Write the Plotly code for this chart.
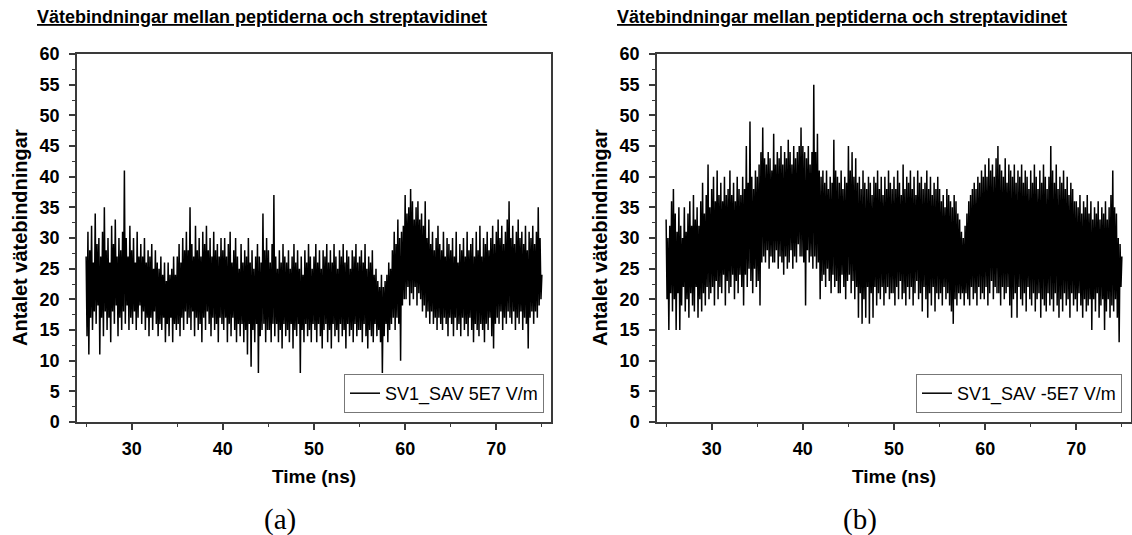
import numpy as np
import plotly.graph_objects as go

# ---------------- data (0.1 ns grid, 25.0 .. 75.0 ns) ----------------
time_start_ns = 25.0
time_step_ns = 0.1

hbonds_a = [
    27, 14, 31, 11, 28, 17, 32, 15, 26, 18, 34, 16, 29, 19, 30, 11, 27, 17, 31, 14,
    35, 18, 28, 15, 30, 17, 26, 13, 32, 18, 29, 16, 33, 19, 27, 14, 30, 17, 28, 15,
    31, 18, 41, 16, 30, 19, 27, 15, 32, 17,
    28, 16, 30, 18, 26, 15, 31, 17, 27, 19, 29, 16, 27, 18, 30, 15, 26, 17, 28, 14,
    27, 17, 29, 15, 25, 18, 28, 16, 26, 14, 25, 16, 27, 15, 24, 17, 26, 13, 23, 16,
    26, 14, 24, 17, 25, 13, 27, 16, 24, 15,
    27, 16, 29, 14, 26, 17, 30, 15, 28, 18, 31, 16, 28, 17, 35, 15, 29, 18, 27, 14,
    32, 17, 28, 15, 30, 16, 27, 13, 31, 17, 29, 15, 32, 18, 28, 16, 30, 14, 27, 17,
    31, 15, 28, 16, 29, 13, 27, 17, 30, 16,
    28, 15, 30, 17, 27, 13, 29, 16, 31, 14, 26, 17, 28, 15, 30, 13, 27, 16, 25, 14,
    29, 16, 26, 13, 28, 15, 27, 11, 30, 16, 26, 9, 28, 15, 25, 13, 27, 16, 29, 8,
    27, 14, 26, 15, 34, 16, 28, 13, 30, 15,
    28, 15, 26, 13, 29, 16, 37, 14, 27, 16, 25, 13, 28, 15, 26, 12, 29, 16, 27, 14,
    26, 15, 28, 13, 25, 16, 27, 12, 29, 15, 26, 14, 28, 16, 25, 8, 27, 15, 24, 13,
    28, 16, 26, 14, 29, 15, 27, 13, 25, 16,
    27, 15, 29, 13, 26, 16, 28, 14, 25, 12, 28, 15, 27, 16, 29, 13, 26, 15, 28, 12,
    26, 16, 29, 14, 27, 15, 25, 13, 28, 16, 27, 14, 29, 15, 26, 12, 28, 16, 27, 14,
    25, 15, 28, 13, 27, 16, 29, 14, 26, 15,
    27, 15, 28, 13, 26, 16, 29, 14, 25, 12, 27, 15, 26, 14, 28, 13, 24, 16, 25, 14,
    23, 15, 22, 13, 24, 8, 22, 14, 23, 16, 24, 13, 26, 15, 25, 16, 28, 17, 31, 15,
    29, 17, 33, 16, 30, 10, 31, 19, 32, 20,
    37, 20, 34, 22, 35, 19, 38, 21, 36, 20, 33, 22, 35, 19, 36, 21, 33, 20, 34, 18,
    32, 19, 36, 17, 30, 18, 33, 16, 29, 18, 31, 16, 28, 17, 30, 15, 32, 17, 29, 16,
    28, 15, 31, 17, 27, 16, 30, 14, 29, 17,
    28, 16, 30, 14, 27, 17, 31, 15, 26, 16, 29, 14, 28, 17, 30, 15, 27, 16, 31, 14,
    28, 17, 29, 15, 30, 13, 27, 16, 31, 15, 28, 14, 32, 16, 27, 15, 30, 13, 29, 16,
    31, 15, 28, 17, 30, 14, 32, 12, 29, 16,
    31, 17, 33, 16, 30, 18, 32, 15, 29, 17, 31, 16, 33, 18, 36, 17, 30, 16, 32, 18,
    29, 15, 31, 17, 33, 16, 30, 18, 31, 15, 29, 17, 32, 16, 28, 12, 31, 17, 30, 18,
    32, 16, 29, 18, 31, 17, 35, 19, 30, 20, 24,
]

hbonds_b = [
    33, 20, 30, 15, 32, 21, 36, 18, 38, 20, 34, 15, 31, 21, 35, 15, 32, 19, 30, 22,
    35, 18, 31, 20, 34, 17, 36, 21, 32, 19, 37, 18, 33, 22, 35, 17, 32, 20, 36, 18,
    39, 21, 34, 19, 37, 22, 42, 20, 35, 21,
    38, 22, 40, 19, 36, 23, 41, 20, 37, 22, 39, 21, 36, 24, 40, 19, 37, 23, 38, 21,
    41, 22, 37, 24, 39, 20, 36, 23, 40, 21, 38, 24, 37, 22, 40, 19, 38, 24, 45, 22,
    39, 25, 49, 23, 40, 21, 38, 25, 41, 22,
    40, 23, 42, 19, 44, 26, 48, 27, 43, 26, 42, 28, 44, 25, 43, 27, 41, 26, 47, 26,
    42, 28, 44, 25, 43, 27, 45, 26, 42, 24, 44, 27, 43, 25, 46, 26, 44, 28, 42, 25,
    45, 27, 43, 26, 44, 29, 45, 27, 48, 27,
    45, 26, 44, 19, 43, 28, 45, 26, 42, 27, 44, 25, 55, 27, 44, 25, 47, 26, 41, 20,
    40, 23, 41, 24, 39, 22, 41, 25, 38, 23, 40, 21, 39, 24, 46, 22, 41, 23, 40, 21,
    39, 21, 41, 24, 38, 22, 40, 20, 39, 23,
    45, 24, 41, 21, 44, 23, 40, 20, 43, 22, 39, 17, 40, 21, 38, 16, 41, 20, 39, 17,
    38, 22, 40, 16, 39, 21, 37, 17, 40, 22, 39, 19, 41, 21, 38, 20, 40, 22, 37, 19,
    40, 21, 38, 22, 41, 20, 39, 21, 38, 21,
    40, 19, 38, 22, 41, 20, 39, 23, 37, 20, 42, 21, 38, 19, 40, 22, 39, 20, 41, 22,
    38, 19, 40, 21, 37, 23, 41, 20, 39, 21, 40, 18, 38, 22, 39, 20, 41, 17, 38, 21,
    40, 19, 37, 22, 39, 18, 38, 21, 40, 20,
    38, 21, 36, 19, 37, 22, 35, 20, 38, 21, 37, 19, 36, 18, 35, 16, 37, 20, 36, 19,
    34, 21, 33, 20, 31, 21, 30, 19, 32, 21, 34, 20, 36, 19, 37, 22, 38, 20, 39, 21,
    38, 19, 40, 22, 39, 20, 41, 21, 40, 20,
    42, 22, 40, 19, 43, 21, 41, 23, 42, 20, 40, 22, 43, 21, 45, 21, 42, 19, 41, 22,
    40, 20, 43, 21, 39, 22, 42, 19, 41, 17, 40, 20, 42, 21, 39, 17, 41, 22, 40, 20,
    42, 19, 39, 21, 41, 18, 40, 22, 38, 20,
    41, 19, 39, 21, 42, 18, 40, 20, 38, 21, 41, 17, 39, 20, 42, 19, 40, 18, 38, 21,
    40, 19, 45, 20, 41, 18, 39, 21, 42, 19, 38, 17, 40, 20, 39, 18, 41, 21, 38, 19,
    40, 20, 37, 17, 39, 21, 38, 19, 36, 20,
    36, 18, 35, 21, 37, 19, 34, 17, 36, 20, 35, 18, 37, 19, 34, 20, 36, 15, 33, 20,
    35, 18, 34, 21, 36, 17, 33, 19, 35, 20, 34, 15, 36, 18, 33, 20, 35, 17, 37, 19,
    41, 18, 35, 20, 34, 17, 30, 13, 29, 22, 27,
]

series_names = ["SV1_SAV 5E7 V/m", "SV1_SAV -5E7 V/m"]
panel_title = "Vätebindningar mellan peptiderna och streptavidinet"
x_title = "Time (ns)"
y_title = "Antalet vätebindningar"
captions = ["(a)", "(b)"]
x_tickvals = [30, 40, 50, 60, 70]
y_tickvals = list(range(0, 61, 5))

time_a = time_start_ns + time_step_ns * np.arange(len(hbonds_a))
time_b = time_start_ns + time_step_ns * np.arange(len(hbonds_b))

# ---------------- figure ----------------
W, H = 1132, 535
SANS = "Liberation Sans, Arial, sans-serif"
SERIF = "Liberation Serif, Times New Roman, serif"
AXC = "#3a3a3a"

fig = go.Figure()
fig.add_trace(go.Scatter(x=time_a, y=hbonds_a, mode="lines", name=series_names[0],
                         line=dict(color="black", width=1.5), xaxis="x", yaxis="y",
                         legend="legend", showlegend=True))
fig.add_trace(go.Scatter(x=time_b, y=hbonds_b, mode="lines", name=series_names[1],
                         line=dict(color="black", width=1.5), xaxis="x2", yaxis="y2",
                         legend="legend2", showlegend=True))


def px(x):
    return x / W


def py(y):
    return 1 - y / H


dom_a = [px(77), px(551)]
dom_b = [px(657), px(1131)]
dom_y = [py(422), py(54)]

xcommon = dict(range=[24, 76], tickvals=x_tickvals, ticks="outside", ticklen=6, tickwidth=1.5,
               tickcolor=AXC, showline=True, linecolor=AXC, linewidth=1.5, mirror=True,
               showgrid=False, zeroline=False, automargin=False,
               tickfont=dict(family=SANS, size=18, color="black", weight="bold"),
               minor=dict(dtick=5, tick0=25, ticks="outside", ticklen=3, tickwidth=1.2,
                          tickcolor=AXC, showgrid=False),
               ticklabelstandoff=4)
ycommon = dict(range=[0, 60], tickvals=y_tickvals, ticks="outside", ticklen=6, tickwidth=1.5,
               tickcolor=AXC, showline=True, linecolor=AXC, linewidth=1.5, mirror=True,
               showgrid=False, zeroline=False, automargin=False,
               tickfont=dict(family=SANS, size=18, color="black", weight="bold"),
               minor=dict(dtick=2.5, tick0=0, ticks="outside", ticklen=3, tickwidth=1.2,
                          tickcolor=AXC, showgrid=False),
               ticklabelstandoff=6)

legcommon = dict(xanchor="right", yanchor="bottom", bgcolor="white", bordercolor="#777",
                 borderwidth=1, font=dict(family=SANS, size=18, color="black"),
                 itemwidth=30, tracegroupgap=0, visible=True)

fig.update_layout(
    width=W, height=H, margin=dict(l=0, r=0, t=0, b=0, autoexpand=False),
    paper_bgcolor="white", plot_bgcolor="white", showlegend=True,
    xaxis=dict(domain=dom_a, anchor="y", **xcommon),
    yaxis=dict(domain=dom_y, anchor="x", **ycommon),
    xaxis2=dict(domain=dom_b, anchor="y2", **xcommon),
    yaxis2=dict(domain=dom_y, anchor="x2", **ycommon),
    legend=dict(x=px(544), y=py(413), **legcommon),
    legend2=dict(x=px(1122), y=py(413), **legcommon),
)

annotations = []
for left, ytx, xcen in [(35, 20, 314), (615, 600, 894)]:
    annotations.append(dict(text="<b><u>" + panel_title + "</u></b>", x=px(left), y=py(17),
                            xref="paper", yref="paper", xanchor="left", yanchor="middle",
                            showarrow=False, font=dict(family=SANS, size=18, color="black")))
    annotations.append(dict(text="<b>" + y_title + "</b>", x=px(ytx), y=py(238),
                            xref="paper", yref="paper", xanchor="center", yanchor="middle",
                            textangle=-90, showarrow=False,
                            font=dict(family=SANS, size=20, color="black")))
    annotations.append(dict(text="<b>" + x_title + "</b>", x=px(xcen), y=py(476),
                            xref="paper", yref="paper", xanchor="center", yanchor="middle",
                            showarrow=False, font=dict(family=SANS, size=19, color="black")))
for cap, cx in zip(captions, [280, 860]):
    annotations.append(dict(text=cap, x=px(cx), y=py(519), xref="paper", yref="paper",
                            xanchor="center", yanchor="middle", showarrow=False,
                            font=dict(family=SERIF, size=29, color="black")))
fig.update_layout(annotations=annotations)

fig.write_html("out.html", config={"displayModeBar": False},
               post_script="document.body.style.margin='0';document.body.style.overflow='hidden';")
